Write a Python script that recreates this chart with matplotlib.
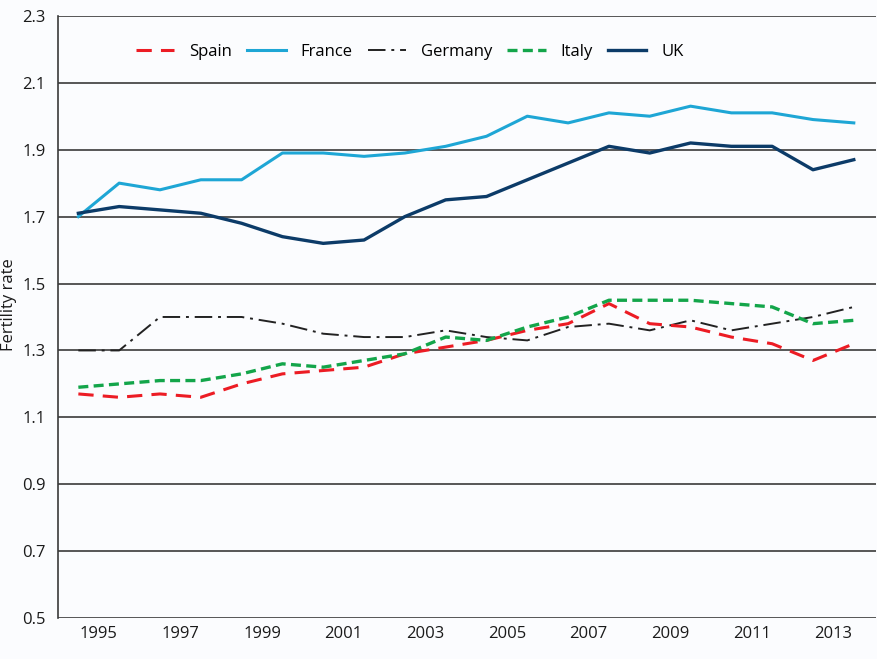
import matplotlib
matplotlib.use('Agg')
import matplotlib.pyplot as plt
import numpy as np

plt.rcParams['font.family'] = ['Open Sans', 'DejaVu Sans']

years = list(range(1994, 2014))
tick_years = list(range(1995, 2014, 2))

spain = [1.17, 1.16, 1.17, 1.16, 1.20, 1.23, 1.24, 1.25, 1.29, 1.31,
         1.33, 1.36, 1.38, 1.44, 1.38, 1.37, 1.34, 1.32, 1.27, 1.32]
france = [1.70, 1.80, 1.78, 1.81, 1.81, 1.89, 1.89, 1.88, 1.89, 1.91,
          1.94, 2.00, 1.98, 2.01, 2.00, 2.03, 2.01, 2.01, 1.99, 1.98]
germany = [1.30, 1.30, 1.40, 1.40, 1.40, 1.38, 1.35, 1.34, 1.34, 1.36,
           1.34, 1.33, 1.37, 1.38, 1.36, 1.39, 1.36, 1.38, 1.40, 1.43]
italy = [1.19, 1.20, 1.21, 1.21, 1.23, 1.26, 1.25, 1.27, 1.29, 1.34,
         1.33, 1.37, 1.40, 1.45, 1.45, 1.45, 1.44, 1.43, 1.38, 1.39]
uk = [1.71, 1.73, 1.72, 1.71, 1.68, 1.64, 1.62, 1.63, 1.70, 1.75,
      1.76, 1.81, 1.86, 1.91, 1.89, 1.92, 1.91, 1.91, 1.84, 1.87]

bg = '#fbfcfe'


def main():
    fig = plt.figure(figsize=(8.78, 6.59), dpi=100, facecolor=bg)
    ax = fig.add_axes([0.066, 0.062, 0.932, 0.914], facecolor=bg)

    x = np.array(years) + 0.5

    ax.plot(x, spain, color='#ec1c24', lw=2.2, dashes=(5, 3), label='Spain', zorder=4)
    ax.plot(x, france, color='#1ea6d5', lw=2.2, label='France', zorder=3)
    ax.plot(x, germany, color='#222222', lw=1.4, dashes=(9, 3, 1.5, 3), label='Germany', zorder=3)
    ax.plot(x, italy, color='#13a54a', lw=2.4, dashes=(3, 1.6), label='Italy', zorder=5)
    ax.plot(x, uk, color='#0c3b68', lw=2.4, label='UK', zorder=3)

    ax.set_xlim(1994, 2014.05)
    ax.set_ylim(0.5, 2.3)
    ax.set_yticks(np.arange(0.5, 2.31, 0.2))
    ax.set_yticklabels([f'{v:.1f}' for v in np.arange(0.5, 2.31, 0.2)])
    ax.set_xticks(tick_years)
    ax.set_xticklabels([str(y) for y in tick_years])
    ax.tick_params(length=0, labelsize=12, colors='#1a1a1a', pad=6)
    ax.tick_params(axis='y', pad=9)

    ax.grid(axis='y', color='#3a3a3a', lw=1.2)
    ax.set_axisbelow(True)
    for s in ['top', 'right', 'bottom']:
        ax.spines[s].set_visible(False)
    ax.spines['left'].set_color('#3a3a3a')
    ax.spines['left'].set_linewidth(1.2)

    ax.set_ylabel('Fertility rate', fontsize=12, color='#1a1a1a')
    ax.yaxis.set_label_coords(-0.05, 0.52)

    ax.legend(loc='center', bbox_to_anchor=(0.43, 0.94), ncol=5, frameon=False,
              fontsize=12, handlelength=2.3, columnspacing=0.9, handletextpad=0.9)

    fig.savefig('out.png', dpi=100, facecolor=bg)


if __name__ == '__main__':
    main()
